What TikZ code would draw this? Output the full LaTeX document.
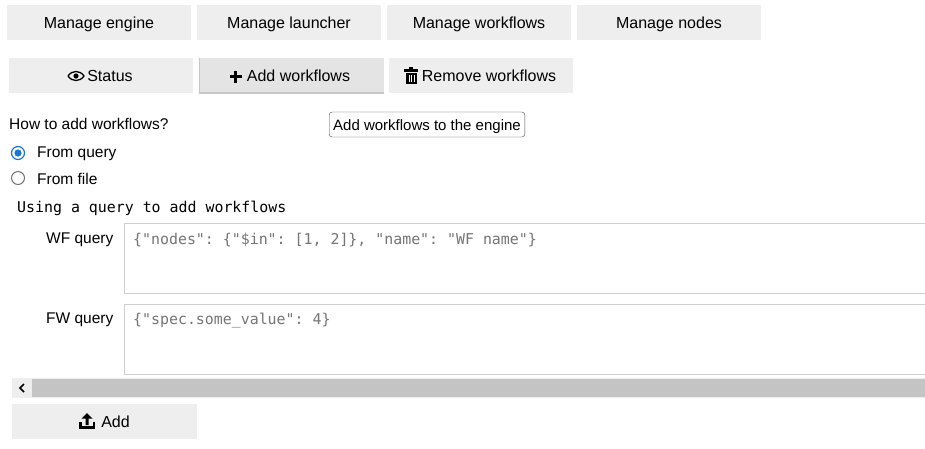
\documentclass[tikz,border=0pt]{standalone}
\usepackage{fontspec}
\setmainfont{Liberation Sans}
\setmonofont{DejaVu Sans Mono}
\definecolor{btn}{HTML}{EEEEEE}
\definecolor{btnon}{HTML}{E4E4E4}
\definecolor{boxline}{HTML}{CFCFCF}
\definecolor{hint}{HTML}{757575}
\definecolor{radio}{HTML}{1976D2}
\definecolor{bar}{HTML}{C4C4C4}
\tikzset{
  btn/.style={fill=btn, draw=none, minimum width=184pt, minimum height=35pt, inner sep=0pt, text height=12pt, text depth=0pt, font=\fontsize{16}{19}\selectfont},
  lbl/.style={anchor=west, inner sep=0pt, font=\fontsize{15.5}{19}\selectfont},
  mono/.style={anchor=west, inner sep=0pt, font=\ttfamily\fontsize{14.9}{18}\selectfont},
  area/.style={draw=boxline, line width=1pt}
}
\begin{document}
\begin{tikzpicture}[x=1pt,y=-1pt]
\useasboundingbox[fill=white] (0,0) rectangle (925,448);
% top tabs
\node[btn] (engine) at (99,22.5) {Manage engine};
\node[btn] (launcher) at (289,22.5) {Manage launcher};
\node[btn] (workflows) at (479,22.5) {Manage workflows};
\node[btn] (nodes) at (669,22.5) {Manage nodes};
% action buttons
\node[btn] (status) at (101,75.5) {\hspace{18pt}Status};
\fill[black!22] (199,58) rectangle (384,94);
\node[btn, fill=btnon, minimum height=34pt] (addwf) at (291.5,75) {\hspace{14pt}Add workflows};
\node[btn] (removewf) at (481,75.5) {\hspace{16pt}Remove workflows};
% eye
\draw[line width=1.3pt] (68,76) .. controls (72,70) and (80,70) .. (84,76) .. controls (80,82) and (72,82) .. (68,76);
\fill (76,76) circle (2.6pt);
% plus
\fill (229.5,75) rectangle (241.5,78); \fill (234,70.5) rectangle (237,82.5);
% trash
\fill (404,69) rectangle (418,71.5); \fill (409,67) rectangle (413,69);
\fill (405.5,72.5) rectangle (416.5,84);
\foreach \xx in {408.5,411,413.5} \fill[white] (\xx,74.5) rectangle (\xx+0.9,82);
% question and tooltip
\node[lbl] (howto) at (9,124) {How to add workflows?};
\node[draw=black!70, rounded corners=3pt, fill=white, inner xsep=4pt, minimum height=25pt, text height=11pt, text depth=0pt, font=\fontsize{15}{18}\selectfont] (tip) at (427,124.5) {Add workflows to the engine};
% radios
\draw[radio, line width=1.2pt, fill=white] (18,153) circle (6.5pt);
\fill[radio] (18,153) circle (3.6pt);
\node[lbl] (fromquery) at (37,154) {From query};
\draw[black!55, line width=1pt] (18,178) circle (6.5pt);
\node[lbl] (fromfile) at (37,179) {From file};
\node[mono] (using) at (17,208) {Using a query to add workflows};
% query fields
\node[lbl] (wflbl) at (46,240) {WF query};
\draw[area] (124.5,223.5) rectangle (926,293.5);
\node[mono, text=hint] (wfq) at (133,240) {\{"nodes": \{"\$in": [1, 2]\}, "name": "WF name"\}};
\node[lbl] (fwlbl) at (46,320) {FW query};
\draw[area] (124.5,304.5) rectangle (926,374.5);
\node[mono, text=hint] (fwq) at (133,321) {\{"spec.some\_value": 4\}};
% scrollbar
\fill[btn] (12,378) rectangle (925,398);
\fill[bar] (32,379) rectangle (925,397);
\draw[line width=1.6pt] (24,384) -- (20,388) -- (24,392);
% add button
\node[btn, minimum width=185pt] (add) at (104.5,421.5) {\hspace{22pt}Add};
\fill (79,426) rectangle (95,429);
\fill (79,422) rectangle (81.5,428); \fill (92.5,422) rectangle (95,428);
\fill (87,413) -- (81.5,418.5) -- (85.5,418.5) -- (85.5,425) -- (88.5,425) -- (88.5,418.5) -- (92.5,418.5) -- cycle;
\end{tikzpicture}
\end{document}
